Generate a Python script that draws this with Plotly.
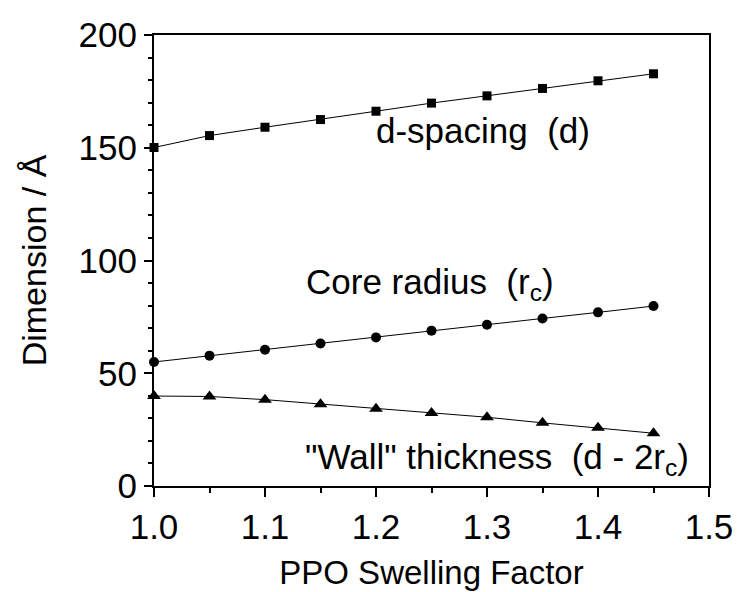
import plotly.graph_objects as go

swelling = [1.0, 1.05, 1.1, 1.15, 1.2, 1.25, 1.3, 1.35, 1.4, 1.45]
d_spacing = [150.1, 155.4, 159.1, 162.5, 166.2, 169.8, 173.0, 176.3, 179.7, 182.8]
core_radius = [55.0, 57.8, 60.4, 63.2, 65.9, 68.9, 71.5, 74.3, 77.0, 79.8]
wall_thickness = [39.9, 39.7, 38.3, 36.3, 34.3, 32.4, 30.5, 28.0, 25.8, 23.4]

x_ticks = [1.0, 1.1, 1.2, 1.3, 1.4, 1.5]
x_tick_text = ["1.0", "1.1", "1.2", "1.3", "1.4", "1.5"]
y_ticks = [0, 50, 100, 150, 200]
y_tick_text = ["0", "50", "100", "150", "200"]

FONT = "Liberation Sans, Arial, sans-serif"
FS = 35

fig = go.Figure()
line_style = dict(color="black", width=1)
fig.add_trace(go.Scatter(x=swelling, y=d_spacing, mode="lines+markers",
                         line=line_style, cliponaxis=False,
                         marker=dict(symbol="square", size=9, color="black")))
fig.add_trace(go.Scatter(x=swelling, y=core_radius, mode="lines+markers",
                         line=line_style, cliponaxis=False,
                         marker=dict(symbol="circle", size=10, color="black")))
fig.add_trace(go.Scatter(x=swelling, y=wall_thickness, mode="lines+markers",
                         line=line_style, cliponaxis=False,
                         marker=dict(symbol="triangle-up", size=12, color="black")))

annot_font = dict(family=FONT, size=FS, color="black")
fig.add_annotation(x=1.296, y=157.5, xref="x", yref="y", text="d-spacing  (d)",
                   showarrow=False, font=annot_font, xanchor="center", yanchor="middle")
fig.add_annotation(x=1.249, y=89.5, xref="x", yref="y", text="Core radius  (r<sub>c</sub>)",
                   showarrow=False, font=annot_font, xanchor="center", yanchor="middle")
fig.add_annotation(x=1.309, y=12, xref="x", yref="y",
                   text="\"Wall\" thickness  (d - 2r<sub>c</sub>)",
                   showarrow=False, font=annot_font, xanchor="center", yanchor="middle")

axis_common = dict(showline=True, linecolor="black", linewidth=2, mirror=True,
                   showgrid=False, zeroline=False, ticks="outside",
                   tickcolor="black", tickwidth=1.5,
                   tickfont=dict(family=FONT, size=FS, color="black"))

fig.update_xaxes(range=[1.0, 1.5], tickvals=x_ticks, ticktext=x_tick_text, ticklen=9,
                 minor=dict(ticks="outside", dtick=0.05, tick0=1.0, ticklen=5,
                            tickcolor="black", tickwidth=1.5),
                 title=dict(text="PPO Swelling Factor",
                            font=dict(family=FONT, size=33, color="black"), standoff=16),
                 **axis_common)
fig.update_yaxes(range=[0, 200], tickvals=y_ticks, ticktext=y_tick_text, ticklen=8,
                 minor=dict(ticks="outside", dtick=10, tick0=0, ticklen=4,
                            tickcolor="black", tickwidth=1.5),
                 title=dict(text="Dimension / Å",
                            font=dict(family=FONT, size=34, color="black"), standoff=22),
                 **axis_common)

fig.update_layout(width=742, height=592, showlegend=False,
                  margin=dict(l=154, r=33, t=35, b=106, autoexpand=False),
                  plot_bgcolor="white", paper_bgcolor="white")

fig.write_html("out.html")
